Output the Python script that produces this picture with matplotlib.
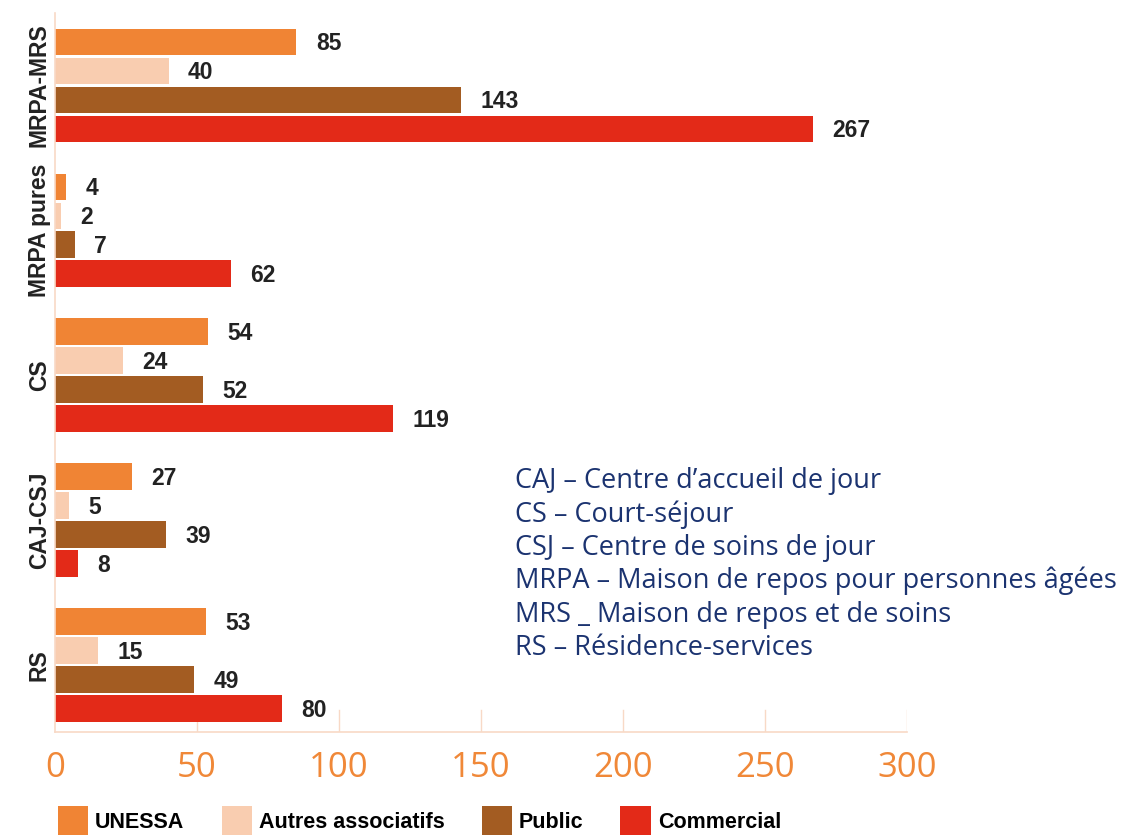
import numpy as np
import matplotlib
matplotlib.use("Agg")
import matplotlib.pyplot as plt
from matplotlib.patches import Patch

# categories listed top to bottom as in the chart
categories = ["MRPA-MRS", "MRPA pures", "CS", "CAJ-CSJ", "RS"]
series = ["UNESSA", "Autres associatifs", "Public", "Commercial"]
unessa = [85, 4, 54, 27, 53]
autres = [40, 2, 24, 5, 15]
public = [143, 7, 52, 39, 49]
commercial = [267, 62, 119, 8, 80]
xticks = [0, 50, 100, 150, 200, 250, 300]
glossary = [
    "CAJ \u2013 Centre d\u2019accueil de jour",
    "CS \u2013 Court-s\u00e9jour",
    "CSJ \u2013 Centre de soins de jour",
    "MRPA \u2013 Maison de repos pour personnes \u00e2g\u00e9es",
    "MRS _ Maison de repos et de soins",
    "RS \u2013 R\u00e9sidence-services",
]

colors = ["#F08434", "#F9CDB0", "#A35C22", "#E32A18"]
spine_col = "#F8D9C6"
tick_col = "#F08838"
navy = "#1B3370"

plt.rcParams["font.family"] = ["Liberation Sans", "DejaVu Sans"]

fig = plt.figure(figsize=(11.29, 8.35), dpi=100)
ax = fig.add_axes([55 / 1129, 1 - 732 / 835, 852 / 1129, 719 / 835])

n = len(categories)
ypos = np.arange(n)[::-1]  # top category gets highest y
offsets = [0.3, 0.1, -0.1, -0.3]
bar_h = 0.186

for vals, off, col in zip([unessa, autres, public, commercial], offsets, colors):
    bars = ax.barh(ypos + off, vals, height=bar_h, color=col, zorder=2)
    for b, v in zip(bars, vals):
        ax.annotate(str(v), (b.get_width(), b.get_y() + b.get_height() / 2),
                    xytext=(14, -1), textcoords="offset points",
                    ha="left", va="center", fontsize=16.5, fontweight="bold",
                    color="#222222")

ax.set_xlim(0, 300)
ax.set_ylim(-0.459, 4.5)
ax.set_yticks(ypos)
ax.set_yticklabels(categories, rotation=90, va="center", fontsize=16.5,
                   fontweight="bold", color="#222222")
ax.tick_params(axis="y", length=0, pad=3)

ax.set_xticks(xticks)
ax.set_xticklabels([str(t) for t in xticks], fontsize=25, color=tick_col,
                   family=["Open Sans", "DejaVu Sans"])
ax.tick_params(axis="x", length=0, pad=14)

# short grid marks at the bottom of the plot
for t in xticks[1:]:
    ax.axvline(t, ymin=0, ymax=0.031, color=spine_col, lw=1, zorder=1)

for s in ["top", "right"]:
    ax.spines[s].set_visible(False)
for s in ["left", "bottom"]:
    ax.spines[s].set_color(spine_col)
    ax.spines[s].set_linewidth(1.2)

# glossary block
for i, line in enumerate(glossary):
    fig.text(515 / 1129, 1 - (481 + i * 33.4) / 835, line, fontsize=19.5,
             color=navy, va="center", ha="left",
             family=["Open Sans", "DejaVu Sans"])

handles = [Patch(facecolor=c, edgecolor="none") for c in colors]
fig.legend(handles, series, loc="center left",
           bbox_to_anchor=(58 / 1129, 1 - 821 / 835), ncol=4, frameon=False,
           prop={"weight": "bold", "size": 15.5}, handlelength=1.4,
           handleheight=1.8, handletextpad=0.33, columnspacing=1.72,
           borderaxespad=0, borderpad=0)

fig.savefig("out.png", dpi=100)
